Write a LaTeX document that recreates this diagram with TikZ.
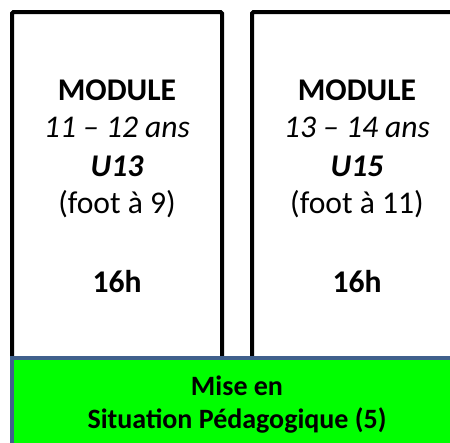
\documentclass[tikz,border=0pt]{standalone}
\usepackage{fontspec}
\setmainfont{Carlito}
\definecolor{greenfill}{RGB}{0,255,0}
\definecolor{blueedge}{RGB}{64,96,140}
\begin{document}
\begin{tikzpicture}[x=1pt,y=-1pt,
  modbox/.style={draw=black,line width=4pt,rounded corners=1.5pt,fill=white},
  misebox/.style={draw=blueedge,line width=4pt,fill=greenfill},
  txt/.style={anchor=base,inner sep=0pt,font=\fontsize{31.6}{38}\selectfont},
  gtxt/.style={anchor=base,inner sep=0pt,font=\fontsize{28}{33}\selectfont\bfseries}]
\useasboundingbox (0,0) rectangle (450,442);
\clip (0,0) rectangle (450,442);
\draw[modbox] (12,12) rectangle (222,380);
\draw[modbox] (252,12) rectangle (462,380);
\draw[misebox] (12,358) rectangle (462,470);
% left module
\node[txt] (a1) at (117,100) {\bfseries MODULE};
\node[txt] (a2) at (117,137.5) {\itshape 11 – 12 ans};
\node[txt] (a3) at (117,176) {\bfseries\itshape U13};
\node[txt] (a4) at (117,213) {(foot à 9)};
\node[txt] (a5) at (117,292) {\bfseries 16h};
% right module
\node[txt] (b1) at (357,100) {\bfseries MODULE};
\node[txt] (b2) at (357,137.5) {\itshape 13 – 14 ans};
\node[txt] (b3) at (357,176) {\bfseries\itshape U15};
\node[txt] (b4) at (357,213) {(foot à 11)};
\node[txt] (b5) at (357,292) {\bfseries 16h};
% bottom
\node[gtxt] (m1) at (237,395) {Mise en};
\node[gtxt] (m2) at (237,428) {Situation Pédagogique (5)};
\end{tikzpicture}
\end{document}
